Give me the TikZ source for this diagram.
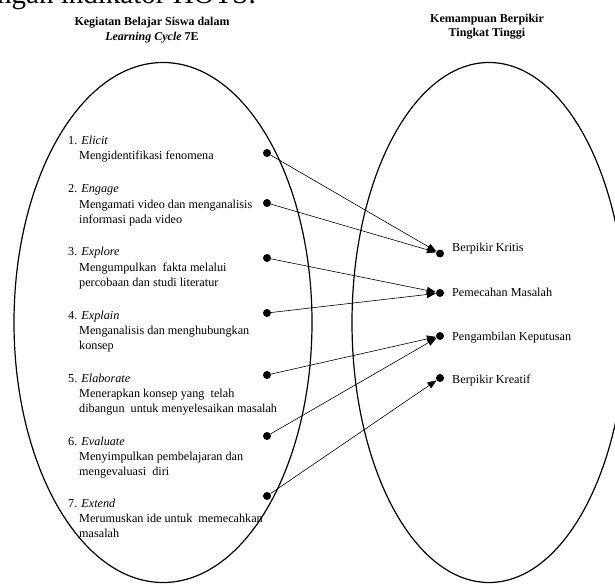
\documentclass[tikz,border=0pt]{standalone}
\usepackage{fontspec}
\setmainfont{Liberation Serif}
\usetikzlibrary{arrows.meta}
\begin{document}
\begin{tikzpicture}[x=1pt,y=-1pt,
  body/.style={font=\fontsize{12.2}{15}\selectfont, anchor=base west, inner sep=0pt},
  head/.style={font=\fontsize{12}{15}\selectfont\bfseries, anchor=base, inner sep=0pt},
  dot/.style={circle, fill=black, minimum size=8pt, inner sep=0pt},
  link/.style={line width=0.6pt, -{Triangle[length=9pt,width=7pt]}},
  oval/.style={line width=1.2pt}]
\useasboundingbox (0,0) rectangle (615,585);
\fill[white] (0,0) rectangle (615,585);

% cut-off line above
\node[font=\fontsize{29}{30}\selectfont, anchor=base west, inner sep=0pt] (toptext) at (-3,4) {ngan indikator HOTS.};

% headers
\node[head] (h1) at (152,25.5) {Kegiatan Belajar Siswa dalam};
\node[head] (h2) at (152,40.5) {\textit{Learning Cycle} 7E};
\node[head] (h3) at (487,22.5) {Kemampuan Berpikir};
\node[head] (h4) at (487,37) {Tingkat Tinggi};

% ellipses
\draw[oval] (163,322.5) ellipse [x radius=149pt, y radius=260pt];
\draw[oval] (489,322.5) ellipse [x radius=137pt, y radius=260pt];

% left items
\node[body] (t1) at (68,145) {1. \textit{Elicit}};
\node[body] (d1a) at (79,160) {Mengidentifikasi fenomena};

\node[body] (t2) at (68,193) {2. \textit{Engage}};
\node[body] (d2a) at (79,208.5) {Mengamati video dan menganalisis};
\node[body] (d2b) at (79,223.5) {informasi pada video};

\node[body] (t3) at (68,255.5) {3. \textit{Explore}};
\node[body] (d3a) at (79,271) {Mengumpulkan\ \ fakta melalui};
\node[body] (d3b) at (79,286) {percobaan dan studi literatur};

\node[body] (t4) at (68,319) {4. \textit{Explain}};
\node[body] (d4a) at (79,334.5) {Menganalisis dan menghubungkan};
\node[body] (d4b) at (79,349.5) {konsep};

\node[body] (t5) at (68,382) {5. \textit{Elaborate}};
\node[body] (d5a) at (79,397) {Menerapkan konsep yang\ \ telah};
\node[body] (d5b) at (79,412) {dibangun\ \ untuk\ menyelesaikan masalah};

\node[body] (t6) at (68,445) {6. \textit{Evaluate}};
\node[body] (d6a) at (79,460) {Menyimpulkan pembelajaran dan};
\node[body] (d6b) at (79,475.5) {mengevaluasi\ \ diri};

\node[body] (t7) at (68,507) {7. \textit{Extend}};
\node[body] (d7a) at (79,522.5) {Merumuskan ide untuk\ \ memecahkan};
\node[body] (d7b) at (79,537.5) {masalah};

% left dots
\node[dot] (L1) at (267,153) {};
\node[dot] (L2) at (267,203) {};
\node[dot] (L3) at (267,258) {};
\node[dot] (L4) at (267,313) {};
\node[dot] (L5) at (267,375) {};
\node[dot] (L6) at (267,436) {};
\node[dot] (L7) at (267,496) {};

% right dots and labels
\node[dot] (R1) at (440,253.5) {};
\node[dot] (R2) at (440,293) {};
\node[dot] (R3) at (440,336) {};
\node[dot] (R4) at (440,378) {};
\node[body] (k1) at (452,251.5) {Berpikir Kritis};
\node[body] (k2) at (452,296) {Pemecahan Masalah};
\node[body] (k3) at (452,340) {Pengambilan Keputusan};
\node[body] (k4) at (452,383) {Berpikir Kreatif};

% connectors
\draw[link] (L1) -- (R1);
\draw[link] (L2) -- (R1);
\draw[link] (L3) -- (R2);
\draw[link] (L4) -- (R2);
\draw[link] (L5) -- (R3);
\draw[link] (L6) -- (R3);
\draw[link] (L7) -- (R4);
\end{tikzpicture}
\end{document}
